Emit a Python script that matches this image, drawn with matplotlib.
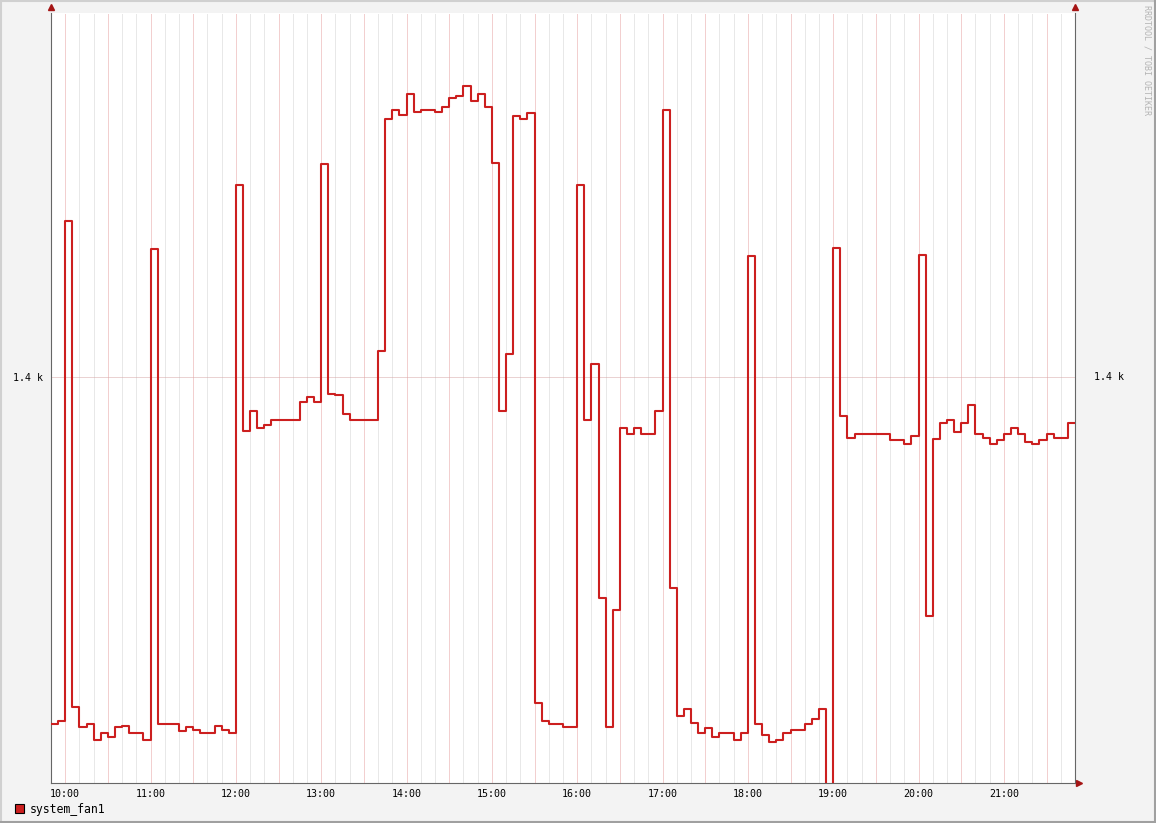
import matplotlib
matplotlib.use("Agg")
import matplotlib.pyplot as plt
import matplotlib.dates as mdates
from matplotlib.patches import Rectangle
from matplotlib.lines import Line2D
import numpy as np
import pandas as pd


# fan speed, one value per 5 minutes starting 09:50
fan1 = [
    1350.4, 1350.8, 1422.3, 1352.8, 1350.0, 1350.4, 1348.2, 1349.1, 1348.6, 1350.0,
    1350.2, 1349.1, 1349.1, 1348.2, 1418.3, 1350.4, 1350.4, 1350.4, 1349.4, 1350.0,
    1349.6, 1349.1, 1349.1, 1350.1, 1349.6, 1349.1, 1427.4, 1392.3, 1395.1, 1392.7,
    1393.1, 1393.9, 1393.9, 1393.9, 1393.9, 1396.5, 1397.1, 1396.5, 1430.5, 1397.6,
    1397.4, 1394.7, 1393.9, 1393.9, 1393.9, 1393.9, 1403.7, 1436.8, 1438.2, 1437.4,
    1440.4, 1437.8, 1438.2, 1438.2, 1437.8, 1438.6, 1439.9, 1440.2, 1441.6, 1439.4,
    1440.4, 1438.6, 1430.6, 1395.2, 1403.3, 1437.3, 1436.9, 1437.7, 1353.4, 1350.9,
    1350.4, 1350.4, 1350.0, 1350.0, 1427.4, 1393.9, 1401.9, 1368.5, 1350.0, 1366.7,
    1392.7, 1391.9, 1392.7, 1391.9, 1391.9, 1395.2, 1438.1, 1369.9, 1351.6, 1352.6,
    1350.6, 1349.1, 1349.9, 1348.6, 1349.1, 1349.1, 1348.2, 1349.1, 1417.3, 1350.4,
    1348.8, 1347.8, 1348.2, 1349.1, 1349.6, 1349.6, 1350.4, 1351.2, 1352.6, 1300.0,
    1418.5, 1394.4, 1391.3, 1391.9, 1391.9, 1391.9, 1391.9, 1391.9, 1391.0, 1391.0,
    1390.4, 1391.6, 1417.5, 1365.9, 1391.2, 1393.4, 1393.8, 1392.2, 1393.4, 1396.0,
    1391.9, 1391.3, 1390.4, 1391.0, 1391.9, 1392.7, 1391.9, 1390.7, 1390.4, 1391.0,
    1391.9, 1391.3, 1391.3, 1393.4,
]
start_time = "2024-01-01 09:50"
y_ticks = [1400]
y_labels = ["1.4 k"]
legend_label = "system_fan1"

W, H = 1156, 823
LINE = "#cc1f1f"
MONO = "DejaVu Sans Mono"

times = pd.date_range(start_time, periods=len(fan1) + 1, freq="5min")
vals = fan1 + [fan1[-1]]

fig = plt.figure(figsize=(W / 100, H / 100), dpi=100, facecolor="#f3f3f3")
ax = fig.add_axes([51 / W, 40 / H, 1024 / W, 770 / H], facecolor="white")

# grid: 10 min grey, 30 min red, dotted
for t in pd.date_range(times[0], times[-1], freq="10min"):
    col = "#e6a0a0" if t.minute in (0, 30) else "#d2d2d2"
    ax.axvline(t, color=col, lw=0.72, ls=(0, (1, 1)), zorder=0)
for yv in y_ticks:
    ax.axhline(yv, color="#d6a6a6", lw=0.72, ls=(0, (1, 1)), zorder=0)

ax.plot(times, vals, drawstyle="steps-post", color=LINE, lw=1.5, zorder=3)

ax.set_xlim(times[0], times[-1])
ax.set_ylim(1342, 1452)

hours = pd.date_range("2024-01-01 10:00", "2024-01-01 21:00", freq="1h")
ax.set_xticks(hours)
ax.xaxis.set_major_formatter(mdates.DateFormatter("%H:%M"))
ax.set_yticks(y_ticks)
ax.set_yticklabels(y_labels)
ax.tick_params(axis="both", length=0, labelsize=7.2)
ax.tick_params(axis="x", pad=4)
ax.tick_params(axis="y", pad=6)
for lab in ax.get_xticklabels() + ax.get_yticklabels():
    lab.set_family(MONO)

# right-hand y label
for yv, lab in zip(y_ticks, y_labels):
    ax.text(1 + 19 / 1024, yv, lab, transform=ax.get_yaxis_transform(),
            family=MONO, fontsize=7.2, va="center", ha="left")

for side in ["left", "bottom", "right"]:
    ax.spines[side].set_color("#666666")
    ax.spines[side].set_linewidth(0.8)
ax.spines["top"].set_visible(False)

# axis arrows
arr = "#a51515"
ax.plot([0, 1], [1.008, 1.008], ls="none", marker="^", ms=4, color=arr,
        transform=ax.transAxes, clip_on=False)
ax.plot([1.004], [0], ls="none", marker=">", ms=4, color=arr,
        transform=ax.transAxes, clip_on=False)

# legend
fig.add_artist(Rectangle((15 / W, 1 - 813 / H), 9 / W, 9 / H, transform=fig.transFigure,
                         facecolor=LINE, edgecolor="black", lw=0.8))
fig.text(30 / W, 1 - 809 / H, legend_label, family=MONO, fontsize=8.3, va="center")

# watermark
fig.text(1147 / W, 1 - 5 / H, "RRDTOOL / TOBI OETIKER", rotation=270, family=MONO,
         fontsize=6, color="#b4b4b4", ha="center", va="top")

# frame
fig.add_artist(Line2D([0, 1], [1 - 1 / H, 1 - 1 / H], transform=fig.transFigure, color="#d0d0d0", lw=1.5))
fig.add_artist(Line2D([1 / W, 1 / W], [0, 1], transform=fig.transFigure, color="#d0d0d0", lw=1.5))
fig.add_artist(Line2D([0, 1], [1 / H, 1 / H], transform=fig.transFigure, color="#a0a0a0", lw=1.5))
fig.add_artist(Line2D([1 - 1 / W, 1 - 1 / W], [0, 1], transform=fig.transFigure, color="#a0a0a0", lw=1.5))

fig.savefig("out.png", dpi=100, facecolor=fig.get_facecolor())
